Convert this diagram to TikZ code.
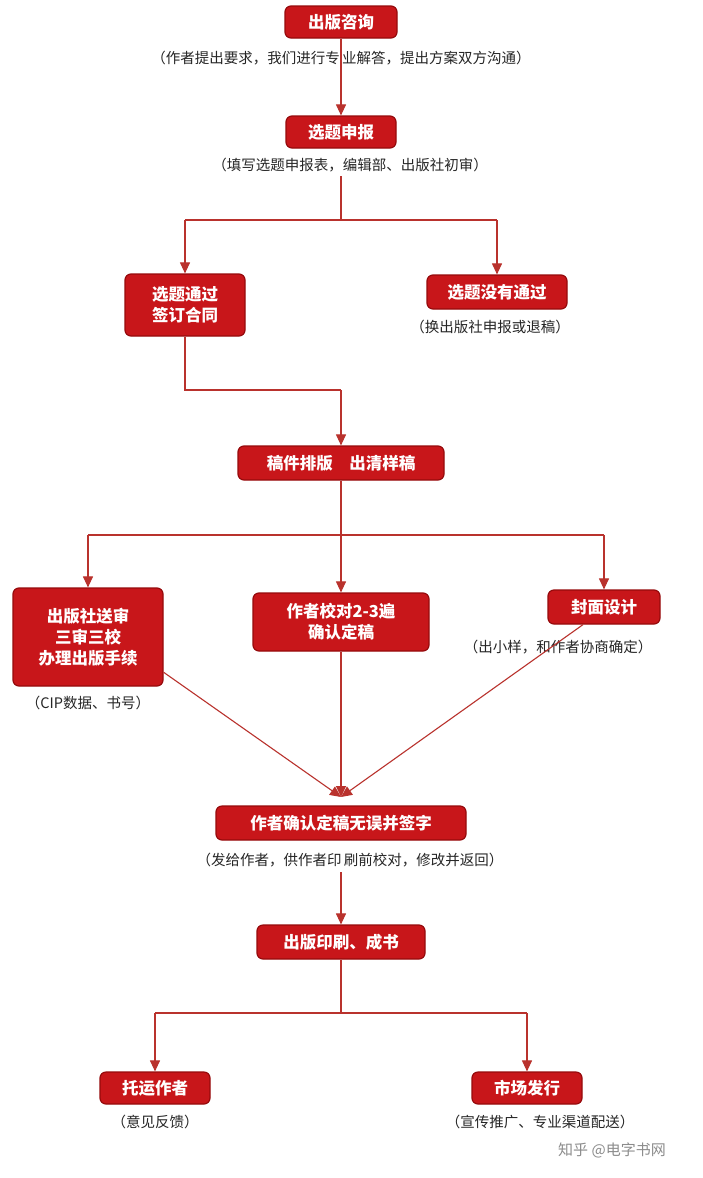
\documentclass[tikz,border=0pt]{standalone}
\usepackage{fontspec}
\setmainfont{Noto Sans CJK SC}
\usetikzlibrary{arrows.meta}
\definecolor{boxred}{RGB}{200, 22, 26}
\definecolor{edgered}{RGB}{150, 10, 12}
\definecolor{linered}{RGB}{185, 50, 45}
\tikzset{every picture/.style={line width=0.75pt}}
\tikzset{
  stage/.style={draw=edgered, line width=1.2pt, fill=boxred, rounded corners=6pt, text=white, font=\fontsize{16.5}{21}\selectfont\bfseries, align=center, inner sep=0pt},
  note/.style={font=\fontsize{14.5}{17}\selectfont, text=black!85},
  flow/.style={draw=linered, line width=1.1pt, -{Triangle[length=11pt,width=10pt]}},
  line/.style={draw=linered, line width=1.1pt}
}
\begin{document}
\begin{tikzpicture}[x=1pt,y=1pt,yscale=-1,xscale=1]
\useasboundingbox[fill=white] (0,0) rectangle (703,1178);

% Stages
\node [stage, minimum width=112pt, minimum height=32pt] (zixun) at (341,22) {出版咨询};
\node [note] (zixunN) at (341,58) {（作者提出要求，我们进行专\,业解答，提出方案双方沟通）};
\node [stage, minimum width=110pt, minimum height=32pt] (shenbao) at (341,132) {选题申报};
\node [note] (shenbaoN) at (350,165) {（填写选题申报表，编辑部、出版社初审）};
\node [stage, minimum width=120pt, minimum height=62pt] (tongguo) at (185,305) {选题通过\\签订合同};
\node [stage, minimum width=140pt, minimum height=34pt] (meiyou) at (497,292) {选题没有通过};
\node [note] (meiyouN) at (490,327) {（换出版社申报或退稿）};
\node [stage, minimum width=206pt, minimum height=34pt] (paiban) at (341,463) {稿件排版\quad 出清样稿};
\node [stage, minimum width=150pt, minimum height=98pt] (songshen) at (88,637) {出版社送审\\三审三校\\办理出版手续};
\node [note] (songshenN) at (88,703) {（CIP数据、书号）};
\node [stage, minimum width=176pt, minimum height=58pt] (jiaodui) at (341,622) {作者校对2-3遍\\确认定稿};
\node [stage, minimum width=112pt, minimum height=34pt] (fengmian) at (604,607) {封面设计};
\node [note] (fengmianN) at (558,647) {（出小样，和作者协商确定）};
\node [stage, minimum width=250pt, minimum height=34pt] (qianzi) at (341,823) {作者确认定稿无误并签字};
\node [note] (qianziN) at (350,860) {（发给作者，供作者印\,刷前校对，修改并返回）};
\node [stage, minimum width=168pt, minimum height=34pt] (yinshua) at (341,942) {出版印刷、成书};
\node [stage, minimum width=110pt, minimum height=32pt] (tuoyun) at (155,1088) {托运作者};
\node [note] (tuoyunN) at (155,1122) {（意见反馈）};
\node [stage, minimum width=110pt, minimum height=32pt] (faxing) at (527,1088) {市场发行};
\node [note] (faxingN) at (540,1122) {（宣传推广、专业渠道配送）};
\node [font=\fontsize{15}{18}\selectfont, text=black!45] (mark) at (612,1150) {知乎 @电字书网};

% Branch points
\coordinate (b1) at (341,220);
\coordinate (b1t) at (341,176);
\coordinate (b1l) at (185,220);
\coordinate (b1r) at (497,220);
\coordinate (b2) at (185,390);
\coordinate (b2r) at (341,390);
\coordinate (b3) at (341,535);
\coordinate (b3l) at (88,535);
\coordinate (b3r) at (604,535);
\coordinate (meet) at (341,797);
\coordinate (below) at (341,872);
\coordinate (b4) at (341,1013);
\coordinate (b4l) at (155,1013);
\coordinate (b4r) at (527,1013);

% Connectors
\draw [flow] (zixun) -- (shenbao);
\draw [line] (b1t) -- (b1);
\draw [line] (b1l) -- (b1r);
\draw [flow] (b1l) -- (tongguo);
\draw [flow] (b1r) -- (meiyou);
\draw [line] (tongguo) -- (b2) -- (b2r);
\draw [flow] (b2r) -- (paiban);
\draw [line] (paiban) -- (b3);
\draw [line] (b3l) -- (b3r);
\draw [flow] (b3l) -- (songshen);
\draw [flow] (b3) -- (jiaodui);
\draw [flow] (b3r) -- (fengmian);
\draw [flow] (songshen.-25) -- (meet);
\draw [flow] (jiaodui) -- (meet);
\draw [flow] (fengmian.-140) -- (meet);
\draw [flow] (below) -- (yinshua);
\draw [line] (yinshua) -- (b4);
\draw [line] (b4l) -- (b4r);
\draw [flow] (b4l) -- (tuoyun);
\draw [flow] (b4r) -- (faxing);
\end{tikzpicture}
\end{document}
